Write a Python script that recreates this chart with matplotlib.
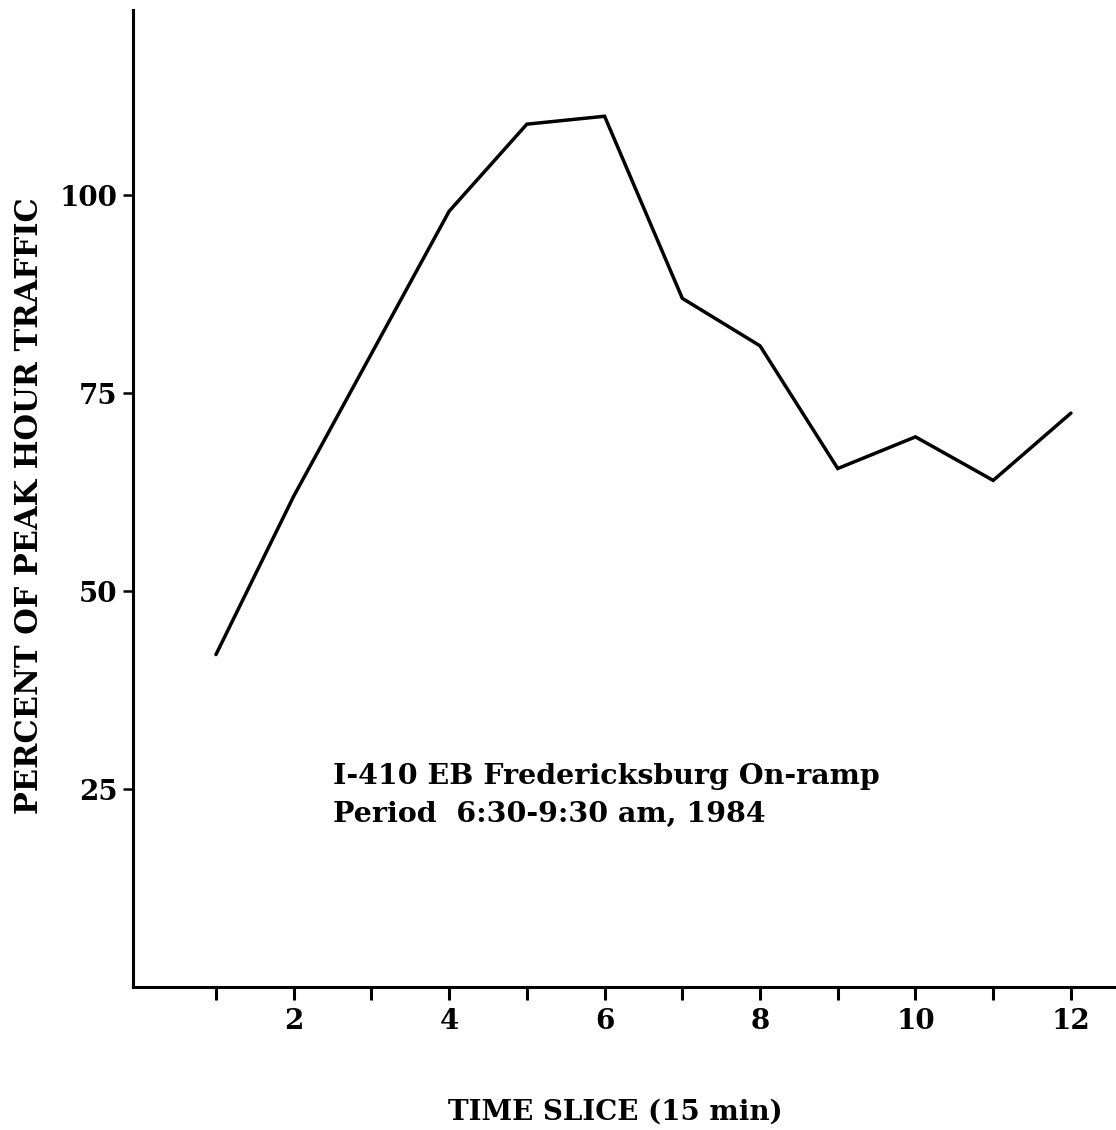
import numpy as np
import matplotlib.pyplot as plt

# percent of peak hour traffic per 15-minute slice
time_slice = [1, 2, 3, 4, 5, 6, 7, 8, 9, 10, 11, 12]
pct_peak = [42, 62, 80, 98, 109, 110, 87, 81, 65.5, 69.5, 64, 72.5]

x_ticks = list(range(1, 13))
x_ticklabels = [str(t) if t % 2 == 0 else '' for t in x_ticks]
y_ticks = [25, 50, 75, 100]

plt.rcParams['font.family'] = ['DejaVu Serif']

fig = plt.figure(figsize=(11.16, 11.3), dpi=100)
ax = fig.add_axes([0.119, 0.1265, 0.881, 0.8645])

ax.plot(time_slice, pct_peak, color='black', lw=2.5, solid_joinstyle='miter',
        solid_capstyle='round')

ax.set_xlim(-0.07, 12.58)
ax.set_ylim(0, 123.4)

ax.spines['top'].set_visible(False)
ax.spines['right'].set_visible(False)
ax.spines['left'].set_linewidth(2.2)
ax.spines['bottom'].set_linewidth(2.2)

ax.set_xticks(x_ticks)
ax.set_xticklabels(x_ticklabels)
ax.set_yticks(y_ticks)
ax.tick_params(axis='x', direction='out', length=9, width=2.2, pad=6,
               labelsize=20)
ax.tick_params(axis='y', direction='out', length=7, width=1.8, pad=4,
               labelsize=20)
for lab in ax.get_xticklabels() + ax.get_yticklabels():
    lab.set_fontweight('bold')

ax.set_ylabel('PERCENT OF PEAK HOUR TRAFFIC', fontsize=22, fontweight='bold',
              va='center')
ax.yaxis.set_label_coords(-0.105, 0.493)
ax.set_xlabel('TIME SLICE (15 min)', fontsize=20, fontweight='bold',
              va='center')
ax.xaxis.set_label_coords(0.491, -0.128)

ax.text(2.5, 24.2, 'I-410 EB Fredericksburg On-ramp\nPeriod  6:30-9:30 am, 1984',
        fontsize=20.5, fontweight='bold', ha='left', va='center', linespacing=1.5)

fig.savefig('out.png', dpi=100, facecolor='white')
